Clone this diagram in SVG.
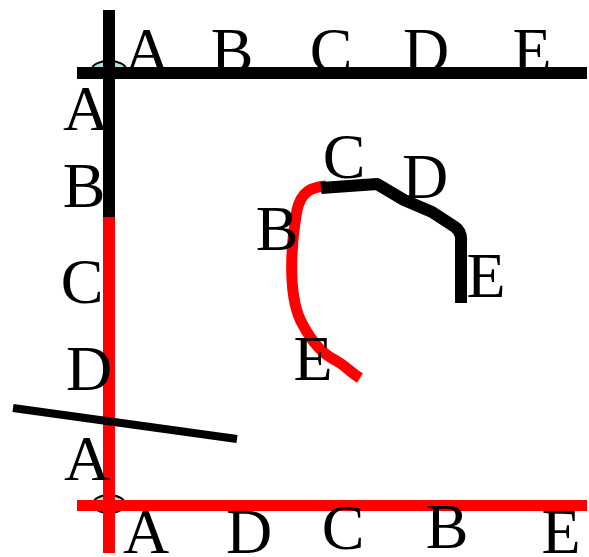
<svg xmlns="http://www.w3.org/2000/svg" width="589" height="557" viewBox="0 0 589 557">
<style>
text{font-family:"Liberation Serif","Times New Roman",serif;font-size:64px;fill:#000;text-anchor:middle}
.k{stroke:#000;fill:none}
.r{stroke:#f00;fill:none}
.ell{fill:#b3dfe0;stroke:#000;stroke-width:2}
</style>
<rect width="589" height="557" fill="#fff"/>
<g id="ellipses">
<ellipse class="ell" cx="109" cy="69" rx="17" ry="8"/>
<ellipse class="ell" cx="109" cy="504" rx="16" ry="9"/>
</g>
<g id="axes">
<line class="k" x1="77" y1="73" x2="587" y2="73" stroke-width="12"/>
<line class="k" x1="109" y1="10" x2="109" y2="218" stroke-width="12"/>
<line class="r" x1="109" y1="217" x2="109" y2="553" stroke-width="12"/>
<line class="r" x1="77" y1="505.5" x2="587" y2="505.5" stroke-width="11"/>
<line class="k" x1="13" y1="408" x2="237" y2="439" stroke-width="8"/>
</g>
<g id="connectors">
<path class="r" stroke-width="11" stroke-linejoin="round" d="M326 186 C311 187 301 192 297 210 C290 250 288 300 303 325 C313 344 323 354 335 360 C346 366 350 372 360 378"/>
<path class="k" stroke-width="12" stroke-linejoin="round" d="M321 188 L377 184 L404 200 L432 212 L455 227 Q462 232 461 242 L461 303"/>
</g>
<g id="labels-top">
<text x="147" y="72">A</text>
<text x="232" y="72">B</text>
<text x="331" y="72">C</text>
<text x="426" y="72">D</text>
<text x="532" y="72">E</text>
</g>
<g id="labels-left">
<text x="86" y="130">A</text>
<text x="84" y="207">B</text>
<text x="82" y="303">C</text>
<text x="89" y="390">D</text>
<text x="87" y="480">A</text>
</g>
<g id="labels-bottom">
<text x="146" y="553">A</text>
<text x="249" y="553">D</text>
<text x="343" y="549">C</text>
<text x="447" y="548">B</text>
<text x="561" y="553">E</text>
</g>
<g id="labels-curve">
<text x="344" y="178">C</text>
<text x="425" y="198">D</text>
<text x="277" y="250">B</text>
<text x="486" y="297">E</text>
<text x="313" y="380">E</text>
</g>
</svg>
